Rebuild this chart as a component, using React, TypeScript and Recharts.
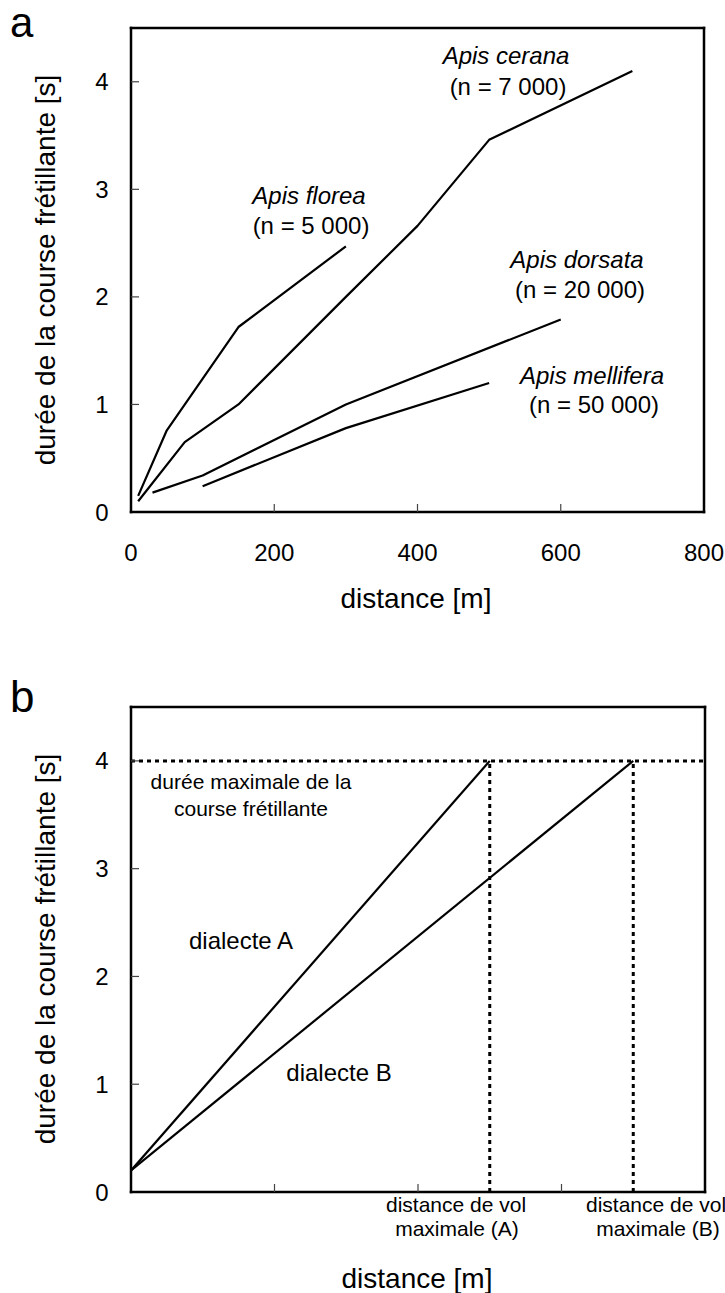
import React from 'react';
import { LineChart, Line, XAxis, YAxis, ReferenceLine } from 'recharts';

const FONT = '"Liberation Sans", Arial, Helvetica, sans-serif';

// ---------- Panel a data ----------
const floreaX = [10, 50, 150, 300];
const floreaY = [0.15, 0.76, 1.72, 2.47];
const ceranaX = [10, 75, 150, 300, 400, 500, 700];
const ceranaY = [0.1, 0.65, 1.0, 2.0, 2.66, 3.46, 4.1];
const dorsataX = [30, 100, 300, 600];
const dorsataY = [0.18, 0.34, 1.0, 1.79];
const melliferaX = [100, 300, 500];
const melliferaY = [0.24, 0.78, 1.2];

const xTicks = [0, 200, 400, 600, 800];
const yTicks = [0, 1, 2, 3, 4];
const xDomain = [0, 800];
const yDomain = [0, 4.5];

// ---------- Panel b data ----------
const dialectAX = [0, 500];
const dialectAY = [0.2, 4];
const dialectBX = [0, 700];
const dialectBY = [0.2, 4];
const maxDuration = 4;
const maxDistances = [500, 700];

const zip = (xs: number[], ys: number[]) => xs.map((x, i) => ({ x, y: ys[i] }));

const floreaData = zip(floreaX, floreaY);
const ceranaData = zip(ceranaX, ceranaY);
const dorsataData = zip(dorsataX, dorsataY);
const melliferaData = zip(melliferaX, melliferaY);
const dialectAData = zip(dialectAX, dialectAY);
const dialectBData = zip(dialectBX, dialectBY);

const TICK_LEN = 8;
const TICK_COLOR = '#444';

const makeXTick = (showLabels: boolean) => (props: any) => {
  const { x, y, payload } = props;
  const v = payload.value;
  const inner = v > xDomain[0] && v < xDomain[1];
  return (
    <g>
      {inner && <line x1={x} y1={y} x2={x} y2={y - TICK_LEN} stroke={TICK_COLOR} strokeWidth={1.2} />}
      {showLabels && (
        <text x={x} y={y + 40} textAnchor="middle" dominantBaseline="central" fontSize={24} fontFamily={FONT} fill="#000">
          {v}
        </text>
      )}
    </g>
  );
};

const YTick = (props: any) => {
  const { x, y, payload } = props;
  const v = payload.value;
  const inner = v > yDomain[0];
  return (
    <g>
      {inner && <line x1={x} y1={y} x2={x + TICK_LEN} y2={y} stroke={TICK_COLOR} strokeWidth={1.2} />}
      <text x={x - 29} y={y} textAnchor="middle" dominantBaseline="central" fontSize={24} fontFamily={FONT} fill="#000">
        {v}
      </text>
    </g>
  );
};

const axisLineStyle = { stroke: '#000', strokeWidth: 2.5, strokeLinecap: 'square' as const };

const lineProps = {
  type: 'linear' as const,
  dataKey: 'y',
  stroke: '#000',
  strokeWidth: 2.2,
  dot: false,
  activeDot: false,
  isAnimationActive: false,
  strokeLinejoin: 'round' as const,
};

const commonAxes = (showXLabels: boolean) => [
  <XAxis
    key="xb"
    type="number"
    dataKey="x"
    domain={xDomain}
    ticks={xTicks}
    interval={0}
    height={1}
    tickSize={0}
    tickMargin={0}
    tickLine={false}
    axisLine={axisLineStyle}
    tick={makeXTick(showXLabels)}
    allowDataOverflow
  />,
  <XAxis
    key="xt"
    xAxisId="top"
    orientation="top"
    type="number"
    dataKey="x"
    domain={xDomain}
    ticks={xTicks}
    interval={0}
    height={1}
    tickSize={0}
    tick={false}
    tickLine={false}
    axisLine={axisLineStyle}
    allowDataOverflow
  />,
  <YAxis
    key="yl"
    type="number"
    domain={yDomain}
    ticks={yTicks}
    interval={0}
    width={1}
    tickSize={0}
    tickMargin={0}
    tickLine={false}
    axisLine={axisLineStyle}
    tick={YTick}
    allowDataOverflow
  />,
  <YAxis
    key="yr"
    yAxisId="right"
    orientation="right"
    type="number"
    domain={yDomain}
    ticks={yTicks}
    interval={0}
    width={1}
    tickSize={0}
    tick={false}
    tickLine={false}
    axisLine={axisLineStyle}
    allowDataOverflow
  />,
];

const txt = (x: number, y: number, s: string, size: number, extra: any = {}) => (
  <text
    x={x}
    y={y}
    textAnchor="middle"
    dominantBaseline="central"
    fontSize={size}
    fontFamily={FONT}
    fill="#000"
    {...extra}
  >
    {s}
  </text>
);

export default function App() {
  return (
    <div style={{ position: 'absolute', left: 0, top: 0, width: 725, height: 1293, background: '#fff' }}>
      <div style={{ position: 'absolute', left: 0, top: 0 }}>
        <LineChart width={725} height={640} margin={{ top: 27, left: 130, right: 20, bottom: 127 }}>
          {commonAxes(true)}
          <Line {...lineProps} data={floreaData} name="Apis florea" />
          <Line {...lineProps} data={ceranaData} name="Apis cerana" />
          <Line {...lineProps} data={dorsataData} name="Apis dorsata" />
          <Line {...lineProps} data={melliferaData} name="Apis mellifera" />
        </LineChart>
      </div>
      <div style={{ position: 'absolute', left: 0, top: 640 }}>
        <LineChart width={725} height={653} margin={{ top: 66, left: 130, right: 19, bottom: 100 }}>
          {commonAxes(false)}
          <ReferenceLine y={maxDuration} stroke="#000" strokeWidth={3} strokeDasharray="4 4" ifOverflow="visible" />
          {maxDistances.map((d) => (
            <ReferenceLine
              key={d}
              segment={[
                { x: d, y: yDomain[0] },
                { x: d, y: maxDuration },
              ]}
              stroke="#000"
              strokeWidth={3}
              strokeDasharray="4 4"
            />
          ))}
          <Line {...lineProps} data={dialectAData} name="dialecte A" />
          <Line {...lineProps} data={dialectBData} name="dialecte B" />
        </LineChart>
      </div>
      <svg
        width={725}
        height={1293}
        style={{ position: 'absolute', left: 0, top: 0, pointerEvents: 'none' }}
      >
        {/* panel letters */}
        <text x={10} y={37} fontSize={42} fontFamily={FONT} fill="#000">a</text>
        <text x={10} y={712} fontSize={44} fontFamily={FONT} fill="#000">b</text>

        {/* panel a titles */}
        <text x={55} y={270} transform="rotate(-90 55 270)" textAnchor="middle" fontSize={28} fontFamily={FONT} fill="#000">
          durée de la course frétillante [s]
        </text>
        {txt(416, 598, 'distance [m]', 28)}

        {/* species labels */}
        {txt(506, 55, 'Apis cerana', 24, { fontStyle: 'italic' })}
        {txt(508, 86, '(n = 7 000)', 24)}
        {txt(309, 195, 'Apis florea', 24, { fontStyle: 'italic' })}
        {txt(311, 225, '(n = 5 000)', 24)}
        {txt(577, 259, 'Apis dorsata', 24, { fontStyle: 'italic' })}
        {txt(580, 289, '(n = 20 000)', 24)}
        {txt(592, 375, 'Apis mellifera', 24, { fontStyle: 'italic' })}
        {txt(594, 404, '(n = 50 000)', 24)}

        {/* panel b titles */}
        <text x={55} y={949} transform="rotate(-90 55 949)" textAnchor="middle" fontSize={28} fontFamily={FONT} fill="#000">
          durée de la course frétillante [s]
        </text>
        {txt(417, 1278, 'distance [m]', 28)}

        {/* panel b annotations */}
        {txt(251, 781, 'durée maximale de la', 21)}
        {txt(251, 808, 'course frétillante', 21)}
        {txt(241, 940, 'dialecte A', 24)}
        {txt(339, 1072, 'dialecte B', 24)}
        {txt(456, 1204, 'distance de vol', 21)}
        {txt(457, 1228, 'maximale (A)', 21)}
        {txt(656, 1204, 'distance de vol', 21)}
        {txt(658, 1228, 'maximale (B)', 21)}
      </svg>
    </div>
  );
}
